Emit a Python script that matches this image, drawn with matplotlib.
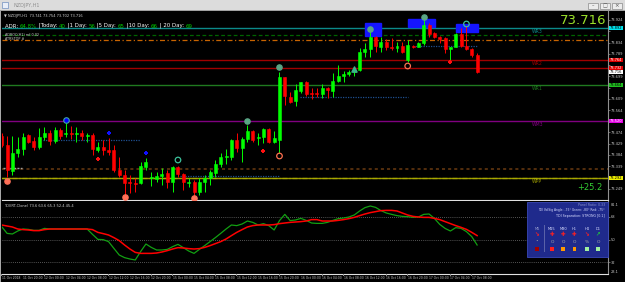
import numpy as np
import matplotlib.pyplot as plt
from matplotlib.patches import Rectangle
import matplotlib.transforms as mtransforms

W, H = 625, 282

# hourly candles NZDJPY H1 (open, high, low, close)
opens = [73.460, 73.424, 73.320, 73.392, 73.408, 73.464, 73.440, 73.416, 73.456, 73.472,
         73.440, 73.484, 73.468, 73.472, 73.468, 73.472, 73.460, 73.464, 73.404, 73.416,
         73.404, 73.404, 73.324, 73.304, 73.276, 73.272, 73.272, 73.336, 73.292, 73.288,
         73.300, 73.312, 73.276, 73.336, 73.308, 73.272, 73.276, 73.236, 73.276, 73.292,
         73.312, 73.348, 73.376, 73.376, 73.444, 73.412, 73.448, 73.480, 73.452, 73.456,
         73.488, 73.436, 73.444, 73.696, 73.616, 73.600, 73.640, 73.676, 73.632, 73.632,
         73.628, 73.652, 73.640, 73.680, 73.700, 73.708, 73.716, 73.724, 73.796, 73.808,
         73.856, 73.816, 73.836, 73.816, 73.812, 73.820, 73.764, 73.820, 73.816, 73.832,
         73.904, 73.872, 73.856, 73.852, 73.808, 73.816, 73.868, 73.820, 73.808, 73.784]
highs = [73.472, 73.460, 73.460, 73.456, 73.472, 73.468, 73.456, 73.492, 73.496, 73.484,
         73.496, 73.492, 73.512, 73.500, 73.496, 73.484, 73.472, 73.472, 73.436, 73.444,
         73.452, 73.424, 73.376, 73.324, 73.304, 73.292, 73.356, 73.372, 73.316, 73.316,
         73.332, 73.324, 73.340, 73.340, 73.312, 73.292, 73.284, 73.292, 73.304, 73.324,
         73.364, 73.392, 73.408, 73.448, 73.472, 73.456, 73.504, 73.484, 73.472, 73.492,
         73.492, 73.480, 73.716, 73.696, 73.636, 73.668, 73.676, 73.680, 73.652, 73.652,
         73.668, 73.656, 73.712, 73.744, 73.720, 73.724, 73.736, 73.812, 73.832, 73.876,
         73.860, 73.856, 73.848, 73.852, 73.836, 73.836, 73.844, 73.824, 73.836, 73.924,
         73.912, 73.876, 73.860, 73.856, 73.816, 73.872, 73.892, 73.900, 73.812, 73.792]
lows = [73.416, 73.296, 73.304, 73.376, 73.384, 73.432, 73.404, 73.408, 73.444, 73.424,
        73.432, 73.448, 73.456, 73.448, 73.436, 73.444, 73.436, 73.384, 73.396, 73.384,
        73.384, 73.316, 73.296, 73.216, 73.232, 73.236, 73.268, 73.324, 73.260, 73.276,
        73.264, 73.252, 73.236, 73.296, 73.244, 73.256, 73.216, 73.224, 73.236, 73.264,
        73.296, 73.336, 73.348, 73.364, 73.396, 73.356, 73.436, 73.436, 73.424, 73.432,
        73.432, 73.432, 73.392, 73.584, 73.592, 73.580, 73.632, 73.620, 73.608, 73.616,
        73.612, 73.612, 73.616, 73.676, 73.676, 73.700, 73.700, 73.720, 73.776, 73.776,
        73.796, 73.796, 73.804, 73.804, 73.796, 73.792, 73.756, 73.812, 73.816, 73.824,
        73.856, 73.852, 73.832, 73.792, 73.764, 73.816, 73.816, 73.804, 73.776, 73.712]
closes = [73.424, 73.324, 73.392, 73.408, 73.456, 73.436, 73.416, 73.456, 73.472, 73.440,
          73.484, 73.460, 73.472, 73.468, 73.472, 73.460, 73.464, 73.408, 73.416, 73.404,
          73.396, 73.324, 73.304, 73.272, 73.272, 73.268, 73.340, 73.356, 73.296, 73.300,
          73.308, 73.276, 73.336, 73.308, 73.276, 73.276, 73.236, 73.276, 73.292, 73.316,
          73.348, 73.376, 73.380, 73.444, 73.412, 73.448, 73.480, 73.444, 73.456, 73.488,
          73.436, 73.452, 73.696, 73.620, 73.596, 73.644, 73.676, 73.628, 73.628, 73.628,
          73.652, 73.644, 73.680, 73.700, 73.708, 73.716, 73.724, 73.796, 73.808, 73.856,
          73.820, 73.836, 73.816, 73.812, 73.820, 73.796, 73.824, 73.816, 73.832, 73.904,
          73.868, 73.856, 73.848, 73.808, 73.816, 73.868, 73.820, 73.808, 73.784, 73.716]

# TDI panel: green price line and red signal line
tdi_green = [60.3, 54.9, 54.4, 56.8, 58.4, 58.1, 57.3, 57.3, 58.9, 58.4,
             58.4, 58.4, 58.4, 58.4, 58.4, 58.4, 58.4, 54.1, 50.1, 49.9,
             48.3, 42.9, 37.6, 35.5, 34.4, 33.6, 40.3, 46.4, 43.7, 41.6,
             41.6, 42.1, 44.3, 46.1, 43.5, 40.8, 38.9, 42.1, 45.1, 48.3,
             51.5, 54.9, 58.4, 61.6, 61.1, 62.4, 64.8, 63.7, 61.6, 62.7,
             61.1, 57.6, 65.1, 70.1, 65.1, 65.6, 66.9, 65.3, 63.2, 62.9,
             62.9, 63.7, 65.3, 66.7, 67.2, 68.0, 69.6, 72.8, 75.5, 76.8,
             75.7, 73.1, 71.2, 70.1, 69.1, 68.5, 68.3, 67.7, 68.0, 70.1,
             70.4, 66.9, 62.1, 58.9, 56.8, 59.5, 58.9, 56.3, 52.3, 45.6]
tdi_red = [61.6, 60.8, 60.0, 58.4, 57.9, 57.6, 57.1, 57.1, 57.9, 58.4,
           58.4, 58.4, 58.4, 58.4, 58.4, 58.4, 58.4, 57.9, 55.7, 54.7,
           53.6, 51.5, 49.1, 45.6, 42.4, 39.7, 38.9, 38.9, 38.9, 39.2,
           40.0, 41.1, 42.4, 43.5, 43.2, 42.7, 42.4, 42.7, 43.7, 45.1,
           46.7, 48.3, 50.4, 53.1, 55.7, 57.9, 60.0, 61.1, 61.6, 61.6,
           61.6, 61.9, 62.7, 63.2, 63.7, 64.0, 64.3, 64.8, 65.9, 65.9,
           64.8, 64.8, 64.8, 65.3, 65.9, 66.7, 67.7, 69.1, 70.4, 71.5,
           72.3, 73.1, 73.3, 73.3, 72.8, 71.2, 69.6, 68.5, 68.0, 67.7,
           67.7, 66.9, 65.9, 64.3, 62.7, 61.1, 59.7, 58.1, 55.7, 53.1]

# weekly pivot levels
level_vals = [73.892, 73.764, 73.732, 73.664, 73.520, 73.292]
level_names = ["WR3", "WR2", "", "WR1", "WM3", "WPP"]
level_cols = ["#0b8a8a", "#a00000", "#a00000", "#1f7a1f", "#800080", "#9a9a00"]
box_cols = ["#00e5ee", "#e00000", "#e00000", "#20c020", "#e000e0", "#f0f000"]
extra_dash = [73.864, 73.844, 73.328]   # dark green, orange, brown dashed lines

price_ticks = [73.924, 73.879, 73.834, 73.789, 73.744, 73.699, 73.654, 73.609,
               73.564, 73.519, 73.474, 73.429, 73.384, 73.339, 73.294, 73.249]

time_idx = list(range(0, 89, 4))
time_labels = ["11 Oct 2018", "11 Oct 20:00", "12 Oct 00:00", "12 Oct 04:00", "12 Oct 08:00",
               "12 Oct 12:00", "12 Oct 16:00", "12 Oct 20:00", "15 Oct 00:00", "15 Oct 04:00",
               "15 Oct 08:00", "15 Oct 12:00", "15 Oct 16:00", "15 Oct 20:00", "16 Oct 00:00",
               "16 Oct 04:00", "16 Oct 08:00", "16 Oct 12:00", "16 Oct 16:00", "16 Oct 20:00",
               "17 Oct 00:00", "17 Oct 04:00", "17 Oct 08:00"]

# signal markers (bar index, price)
green_dots = ([46, 52, 69, 79], [73.520, 73.736, 73.888, 73.936])
orange_dots = ([1, 23, 36], [73.280, 73.216, 73.212])
green_rings = ([33, 87], [73.364, 73.908])
orange_rings = ([52, 76], [73.380, 73.740])
red_cross = ([18, 49, 84], [73.368, 73.400, 73.756])
blue_cross = ([20, 27], [73.472, 73.392])
zones = [(68.0, 71.0, 73.860, 73.912), (76.1, 81.1, 73.896, 73.928), (85.1, 89.2, 73.876, 73.908)]
blue_dotted = [(7.7, 25.9, 73.444), (33.4, 51.9, 73.300), (55.9, 76.1, 73.616), (77.0, 89.2, 73.820)]

XL, XR = 0.056, 113.5
fig = plt.figure(figsize=(6.25, 2.82), dpi=100, facecolor='black')

def ft(x, y, s, **kw):
    return fig.text(x / W, 1 - y / H, s, **kw)

def frect(x0, y0, x1, y1, **kw):
    fig.add_artist(Rectangle((x0 / W, 1 - y1 / H), (x1 - x0) / W, (y1 - y0) / H,
                             transform=fig.transFigure, **kw))

ax = fig.add_axes([2 / W, 1 - 200 / H, 606 / W, 189 / H])
ax2 = fig.add_axes([2 / W, 1 - 274 / H, 606 / W, 73 / H])
for a in (ax, ax2):
    a.set_facecolor('black')
    for s in a.spines.values():
        s.set_visible(False)
    a.spines['right'].set_visible(True)
    a.spines['right'].set_color('#909090')
    a.spines['bottom'].set_visible(True)
    a.spines['bottom'].set_color('#e0e0e0')
    a.set_xlim(XL, XR)
    a.set_xticks([])

x = np.arange(len(opens))
o = np.array(opens); c = np.array(closes)
cols = np.where(c >= o, '#00ff00', '#ff0000')

# levels
for v, n, lc in zip(level_vals, level_names, level_cols):
    ax.axhline(v, color=lc, lw=1.0, zorder=1)
    if n:
        ax.text(99.3, v - 0.004, n, color=lc, fontsize=3.3, va='top', ha='left')
ax.axhline(extra_dash[0], color='#006400', lw=0.9, ls=(0, (3, 2)), zorder=1)
ax.axhline(extra_dash[1], color='#c86400', lw=0.9, ls=(0, (4, 2, 1, 2)), zorder=1)
ax.axhline(extra_dash[2], color='#6b3a10', lw=1.1, ls=(0, (2, 2)), zorder=1)
ax.axhline(level_vals[-1], color='#a8a800', lw=0.9, ls=(0, (4, 1.5, 1, 1.5)), zorder=1)

for x0, x1, y in blue_dotted:
    ax.plot([x0, x1], [y, y], color='#1f4f8f', lw=0.9, ls=(0, (1, 1)), zorder=1)
ax.plot([0.2, 3.8], [73.332, 73.332], color='#a0a0a0', lw=1.0, ls=(0, (1.5, 1)), zorder=2)

for x0, x1, y0, y1 in zones:
    ax.add_patch(Rectangle((x0, y0), x1 - x0, y1 - y0, color='#1515ff', zorder=2))

# candles
ax.vlines(x, lows, highs, colors=cols, lw=0.7, zorder=3)
ax.bar(x, np.abs(c - o), bottom=np.minimum(o, c), width=0.56, color=cols,
       edgecolor=cols, lw=0.4, zorder=4)

ax.scatter(*green_dots, s=14, color='#5aa585', zorder=5)
ax.scatter(*orange_dots, s=14, color='#ff7058', zorder=5)
ax.scatter(*green_rings, s=16, facecolors='none', edgecolors='#3cc09a', lw=0.9, zorder=5)
ax.scatter(*orange_rings, s=16, facecolors='none', edgecolors='#ff7050', lw=0.9, zorder=5)
ax.scatter([12], [73.524], s=16, color='#0000ff', edgecolors='#40a8a0', lw=0.8, zorder=5)
ax.scatter(*red_cross, s=9, marker='P', color='#ff1010', lw=0, zorder=5)
ax.scatter(*blue_cross, s=9, marker='P', color='#1010ff', lw=0, zorder=5)
ax.scatter([66], [73.728], s=14, marker='^', color='#3cb38a', zorder=5)

# price scale: plain ticks, hidden where a level box sits on top
box_labels = level_vals[:3] + [73.716] + level_vals[3:]
ax.set_ylim(73.204, 73.960)
ax.yaxis.tick_right()
ax.set_yticks(price_ticks)
ax.set_yticklabels(['' if min(abs(v - b) for b in box_labels) < 0.016 else '%.3f' % v
                    for v in price_ticks])
ax.tick_params(axis='y', colors='#909090', labelcolor='#c8c8c8', labelsize=2.6,
               length=1.5, width=0.5, pad=0.8)

tr = mtransforms.blended_transform_factory(ax.transAxes, ax.transData)
box_fc = box_cols[:3] + ['#ffffff'] + box_cols[3:]
box_tc = ['black', 'white', 'white', 'black', 'black', 'white', 'black']
for v, fc, tc in zip(box_labels, box_fc, box_tc):
    ax.text(1.003, v, '%.3f' % v, transform=tr, fontsize=2.6, color=tc, va='center',
            ha='left', bbox=dict(boxstyle='square,pad=0.12', fc=fc, ec='none'), zorder=6)

# texts in main window
ax.text(0.004, 0.985, u'\u25bc NZDJPY,H1  73.741 73.754 73.702 73.716', transform=ax.transAxes,
        fontsize=2.6, color='#d0d0d0', va='top')
segs = [("ADR: ", 'white'), ("64.8%", '#00d000'), (" |Today: ", 'white'), ("40", '#00d000'),
        (" |1 Day: ", 'white'), ("56", '#00d000'), (" |5 Day: ", 'white'), ("65", '#00d000'),
        (" |10 Day: ", 'white'), ("66", '#00d000'), (" | 20 Day: ", 'white'), ("69", '#00d000')]
prev = ft(5, 28.5, segs[0][0], color=segs[0][1], fontsize=3.9, va='bottom')
for s, col in segs[1:]:
    prev = ax.annotate(s, xy=(1, 0), xycoords=prev, color=col, fontsize=3.9,
                       va='bottom', ha='left', annotation_clip=False)
ft(5, 34.5, 'ADROC(H1) mf 0.02', color='#d0d0d0', fontsize=2.4, va='center')
ft(5, 38.5, 'ATRSTOP #', color='#d0d0d0', fontsize=2.4, va='center')
ft(606, 20, '73.716', color='#9be12a', fontsize=9.5, ha='right', va='center')
ft(602, 188, '+25.2', color='#33cc33', fontsize=6, ha='right', va='center')

# TDI panel
ax2.plot(x, tdi_green, color='#12a012', lw=0.9, zorder=3)
ax2.plot(x, tdi_red, color='#ff0000', lw=1.1, zorder=4)
for v in (68, 50, 32):
    ax2.axhline(v, color='#707070', lw=0.6, ls=(0, (1, 1.5)), zorder=1)
ax2.set_ylim(22.4, 80.8)
ax2.yaxis.tick_right()
ax2.set_yticks([68, 50, 32])
ax2.tick_params(axis='y', colors='#909090', labelcolor='#c8c8c8', labelsize=2.6,
                length=1.5, width=0.5, pad=0.8)
ax2.text(0.004, 0.96, 'TDI(RT-Clone) 73.6 63.6 65.3 52.4 45.4', transform=ax2.transAxes,
         fontsize=2.6, color='#d0d0d0', va='top')
ft(611, 205, '81.1', color='#c8c8c8', fontsize=2.6, va='center')
ft(611, 272, '23.1', color='#c8c8c8', fontsize=2.6, va='center')

# time axis
for i, lab in zip(time_idx, time_labels):
    px = 2 + (i - XL) * 606 / (XR - XL)
    ft(px, 278, lab, color='#c8c8c8', fontsize=2.15, ha='left', va='center')
    frect(px - 0.3, 274, px + 0.3, 276, color='#909090', lw=0)

# dashboard panel
frect(527, 202, 608, 257, fc='#1f2a8c', ec='#3a48b8', lw=0.6)
ft(605, 205, 'Panel Ratio: 0.33', color='#8890c8', fontsize=2.3, ha='right', va='center')
ft(605, 210.5, u'TDI VolSig Angle: -75\u00b0 Green: -80\u00b0 Red: -75\u00b0', color='#d8dcff',
   fontsize=2.2, ha='right', va='center')
ft(605, 215.5, 'TDI Separation: STRONG [0.1]', color='#d8dcff', fontsize=2.3, ha='right', va='center')
frect(543.5, 225, 545, 252, color='#5a62a8', lw=0)
heads = ['M5', 'M15', 'M30', 'H1', 'H4', 'D1']
hx = [537, 552, 563, 574.5, 587, 598]
arrows = [u'\u2198', u'\u271a', u'\u271a', u'\u271a', u'\u2198', u'\u2197']
arrow_c = ['#ff2020', '#ff2020', '#ff2020', '#ff2020', '#ff2020', '#20c040']
mids = [u'\u2022', 'O', 'O', 'O', '%', 'O']
sq_c = ['#a00000', '#ff2020', '#ff9900', '#ff9900', '#a0f0a0', '#a0f0a0']
for hxx, hd, ar, arc, md, sc in zip(hx, heads, arrows, arrow_c, mids, sq_c):
    ft(hxx, 229, hd, color='#9aa0d0' if hd == 'M5' else '#d8dcff', fontsize=2.6,
       ha='center', va='center')
    ft(hxx, 235, ar, color=arc, fontsize=4, ha='center', va='center', fontweight='bold')
    ft(hxx, 242, md, color='#a8a8a8', fontsize=3.2, ha='center', va='center')
    frect(hxx - 1.8, 247.3, hxx + 1.8, 250.9, color=sc, lw=0)

# window chrome
frect(0, 0, 625, 10, color='#dcdcdc', lw=0)
frect(0, 10, 625, 11, color='#a0a0a0', lw=0)
frect(0, 11, 1.5, 282, color='#a8a8a8', lw=0)
frect(2, 2, 8, 8, fc='#e8eef8', ec='#7090c0', lw=0.5)
ft(14, 5, 'NZDJPY,H1', color='#909090', fontsize=3.5, va='center')
for bx in (588, 600, 612):
    frect(bx, 3, bx + 10, 9, fc='#ececec', ec='#8a8a8a', lw=0.5)
ft(593, 6, u'\u2013', color='#505050', fontsize=3.5, ha='center', va='center')
ft(605, 6, u'\u25a1', color='#505050', fontsize=3.5, ha='center', va='center')
ft(617, 6, u'\u00d7', color='#505050', fontsize=4, ha='center', va='center')

fig.savefig('out.png', dpi=100, facecolor='black')
